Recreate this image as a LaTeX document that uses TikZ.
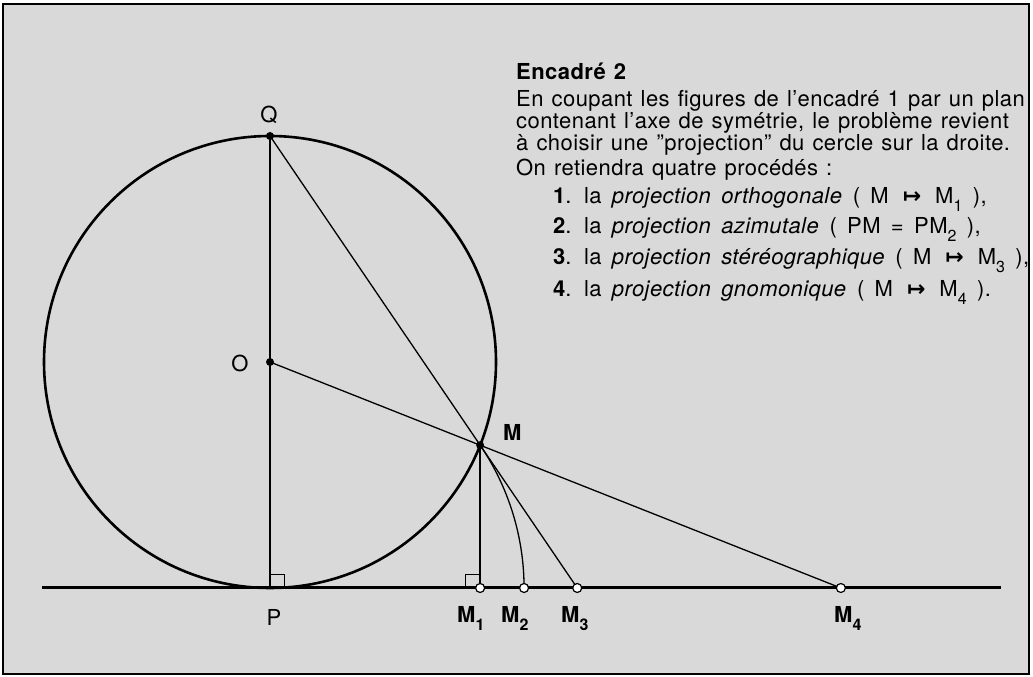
\documentclass[tikz,border=0pt]{standalone}
\usepackage{fontspec}
\setmainfont{TeX Gyre Heros}[LetterSpace=2.0]
\newfontfamily\symfont{DejaVu Sans}
\usetikzlibrary{calc}
\newcommand\sbs[1]{\raisebox{-0.33em}{\fontsize{16}{16}\selectfont #1}}
\newcommand\mto{{\symfont\bfseries\,↦\,}}
\newcommand\loosespace{\spaceskip=0.37em plus 0.1em\relax}
\newcommand\widerspace{\spaceskip=0.47em plus 0.1em\relax}
\begin{document}
\begin{tikzpicture}[x=1pt,y=1pt,
  thinline/.style={line width=1.3pt},
  thickline/.style={line width=2.6pt},
  baseline/.style={line width=3pt},
  fulldot/.style={circle,fill=black,inner sep=0pt,minimum size=8pt},
  opendot/.style={circle,draw=black,fill=white,line width=1.2pt,inner sep=0pt,minimum size=9pt},
  rightmark/.style={line width=0.8pt},
  lab/.style={font=\fontsize{22}{22}\selectfont, inner sep=0pt},
  blab/.style={font=\fontsize{22}{22}\selectfont\bfseries, inner sep=0pt, anchor=base west},
  txt/.style={font=\fontsize{22}{22}\selectfont, execute at begin node={\loosespace}, inner sep=0pt, anchor=base west},
  itemtxt/.style={font=\fontsize{22}{22}\selectfont, execute at begin node={\widerspace}, inner sep=0pt, anchor=base west},
  btxt/.style={font=\fontsize{22}{22}\selectfont\bfseries, execute at begin node={\loosespace}, inner sep=0pt, anchor=base west}]
\useasboundingbox (0,0) rectangle (1033,677);
\fill[gray!30] (3,3) rectangle (1029,673);
\draw[line width=2pt] (3,3) rectangle (1029,673);
% geometry
\coordinate (O) at (270,315);
\coordinate (P) at (270,89);
\coordinate (Q) at (270,541);
\coordinate (M) at ($(O)+(-21.6:226)$);
\coordinate (L1) at (42,89);
\coordinate (L2) at (1001,89);
\coordinate (M1) at (M |- P);
\coordinate (M3) at (intersection of Q--M and L1--L2);
\coordinate (M4) at (intersection of O--M and L1--L2);
\path let \p1=($(M)-(P)$) in coordinate (M2) at ($(P)+({veclen(\x1,\y1)},0)$);
% lines
\draw[baseline] (L1) -- (L2);
\draw[thinline] (P) -- (Q);
\draw[thinline] (Q) -- (M3);
\draw[thinline] (O) -- (M4);
\draw[thinline] (M) -- (M1);
\draw[thinline] let \p1=($(M)-(P)$), \n1={atan2(\y1,\x1)}, \n2={veclen(\x1,\y1)} in
  (M) arc[start angle=\n1, end angle=0, radius=\n2];
\draw[rightmark] ($(P)+(0,14)$) -| ($(P)+(14,0)$);
\draw[rightmark] ($(M1)+(0,14)$) -| ($(M1)+(-15,0)$);
\draw[thickline] (O) circle[radius=226];
% points
\node[fulldot] (dQ) at (Q) {};
\node[fulldot] (dO) at (O) {};
\node[fulldot] (dM) at (M) {};
\node[opendot] (dM1) at (M1) {};
\node[opendot] (dM2) at (M2) {};
\node[opendot] (dM3) at (M3) {};
\node[opendot] (dM4) at (M4) {};
% labels
\node[lab] (labQ) at (269,562) {Q};
\node[lab] (labO) at (240,314) {O};
\node[lab] (labP) at (274,60) {P};
\node[blab] (labM) at (503,236) {M};
\node[blab] (labM1) at (457,54) {M\sbs{1}};
\node[blab] (labM2) at (501,54) {M\sbs{2}};
\node[blab] (labM3) at (561,54) {M\sbs{3}};
\node[blab] (labM4) at (834,54) {M\sbs{4}};
% text
\node[btxt] (t0) at (516,597) {Encadré 2};
\node[txt] (t1) at (516,570) {En coupant les figures de l'encadré 1 par un plan};
\node[txt] (t2) at (516,548) {contenant l'axe de symétrie, le problème revient};
\node[txt] (t3) at (516,526) {à choisir une "projection" du cercle sur la droite.};
\node[txt] (t4) at (516,501) {On retiendra quatre procédés :};
\node[itemtxt] (t5) at (553,473) {\textbf{1}. la \textit{projection orthogonale} ( M \mto{} M\sbs{1} ),};
\node[itemtxt] (t6) at (553,443) {\textbf{2}. la \textit{projection azimutale} ( PM = PM\sbs{2} ),};
\node[itemtxt] (t7) at (553,412) {\textbf{3}. la \textit{projection stéréographique} ( M \mto{} M\sbs{3} ),};
\node[itemtxt] (t8) at (553,380) {\textbf{4}. la \textit{projection gnomonique} ( M \mto{} M\sbs{4} ).};
\end{tikzpicture}
\end{document}
